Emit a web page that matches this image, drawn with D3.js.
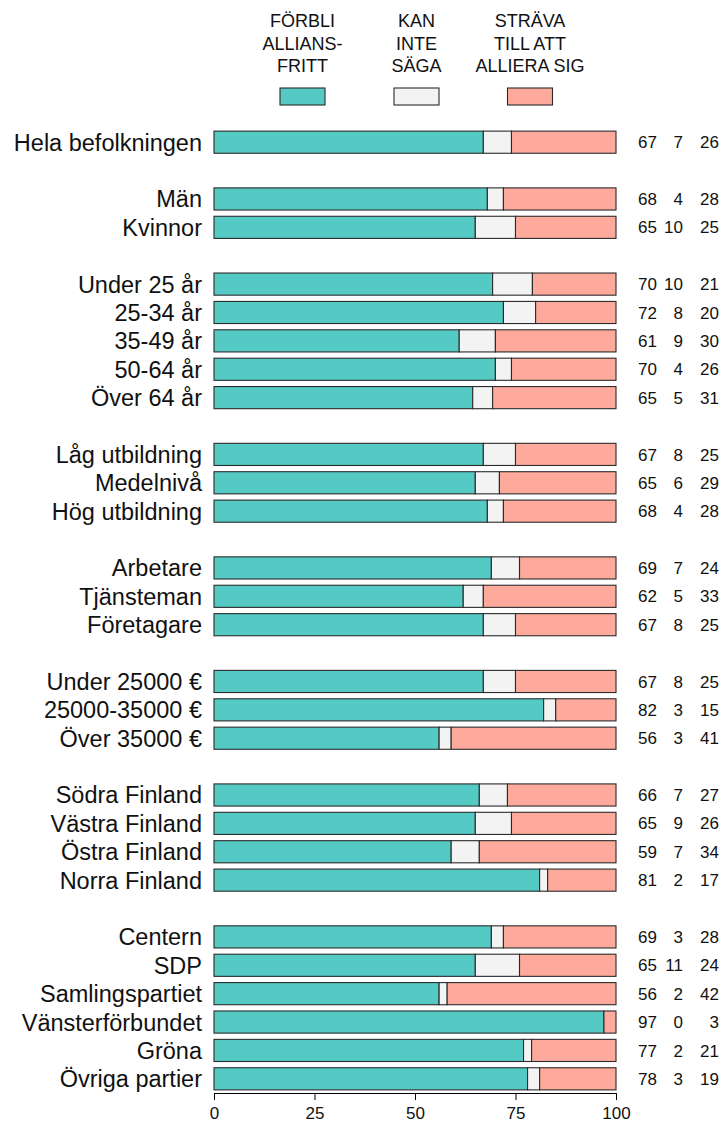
<!DOCTYPE html>
<html>
<head>
<meta charset="utf-8">
<script src="https://cdn.jsdelivr.net/npm/d3@7"></script>
<style>
html,body{margin:0;padding:0;background:#fff;}
svg{display:block;font-family:"Liberation Sans",Arial,sans-serif;}
</style>
</head>
<body>
<svg id="chart" width="723" height="1126"></svg>
<script>
const categories = ["Hela befolkningen","Män","Kvinnor","Under 25 år","25-34 år","35-49 år","50-64 år","Över 64 år","Låg utbildning","Medelnivå","Hög utbildning","Arbetare","Tjänsteman","Företagare","Under 25000 €","25000-35000 €","Över 35000 €","Södra Finland","Västra Finland","Östra Finland","Norra Finland","Centern","SDP","Samlingspartiet","Vänsterförbundet","Gröna","Övriga partier"];
const groups = [0,1,1,2,2,2,2,2,3,3,3,4,4,4,5,5,5,6,6,6,6,7,7,7,7,7,7];
const forbli = [67,68,65,70,72,61,70,65,67,65,68,69,62,67,67,82,56,66,65,59,81,69,65,56,97,77,78];
const kanInte = [7,4,10,10,8,9,4,5,8,6,4,7,5,8,8,3,3,7,9,7,2,3,11,2,0,2,3];
const strava = [26,28,25,21,20,30,26,31,25,29,28,24,33,25,25,15,41,27,26,34,17,28,24,42,3,21,19];
const seriesNames = [["FÖRBLI","ALLIANS-","FRITT"],["KAN","INTE","SÄGA"],["STRÄVA","TILL ATT","ALLIERA SIG"]];
const seriesColors = ["#55C9C4","#F3F3F3","#FDAA9D"];
const tickValues = [0,25,50,75,100];

const svg = d3.select("#chart");
const x = d3.scaleLinear().domain([0,100]).range([214,616]);
const slots = categories.map((c,i)=>i+groups[i]);
const nSlots = d3.max(slots)+1;
const y = d3.scaleBand().domain(d3.range(nSlots)).range([128,1093]).paddingInner(0.22).paddingOuter(0.11);
const bh = y.bandwidth();

const series = [forbli,kanInte,strava];
categories.forEach((c,i)=>{
  const total = forbli[i]+kanInte[i]+strava[i];
  let cum = 0;
  const yy = y(slots[i]);
  series.forEach((s,k)=>{
    const v = s[i]/total*100;
    svg.append("rect")
      .attr("x", x(cum)).attr("y", yy)
      .attr("width", x(cum+v)-x(cum)).attr("height", bh)
      .attr("fill", seriesColors[k]).attr("stroke","#2b2b2b").attr("stroke-width",1.1);
    cum += v;
  });
  svg.append("text").attr("x",202).attr("y",yy+bh/2).attr("dy","0.36em")
    .attr("text-anchor","end").attr("font-size",23.5).attr("fill","#111").text(c);
  const cols = [657,683,719];
  series.forEach((s,k)=>{
    svg.append("text").attr("x",cols[k]).attr("y",yy+bh/2).attr("dy","0.36em")
      .attr("text-anchor","end").attr("font-size",17).attr("fill","#111").text(s[i]);
  });
});

// legend
const legX = [302.5,416.5,530];
seriesNames.forEach((lines,k)=>{
  lines.forEach((t,j)=>{
    svg.append("text").attr("x",legX[k]).attr("y",21+j*22.5).attr("dy","0.36em")
      .attr("text-anchor","middle").attr("font-size",18).attr("fill","#111").text(t);
  });
  svg.append("rect").attr("x",legX[k]-22.5).attr("y",88).attr("width",45).attr("height",17)
    .attr("fill",seriesColors[k]).attr("stroke","#2b2b2b").attr("stroke-width",1.1);
});

// axis
const axis = svg.append("g").attr("transform","translate(0,1093)")
  .call(d3.axisBottom(x).tickValues(tickValues).tickSize(7).tickSizeOuter(0).tickPadding(7));
axis.select(".domain").attr("stroke","#000");
axis.selectAll(".tick line").attr("stroke","#000");
axis.selectAll("text").attr("font-size",17).attr("font-family","Liberation Sans, Arial, sans-serif").attr("fill","#111");
</script>
</body>
</html>
